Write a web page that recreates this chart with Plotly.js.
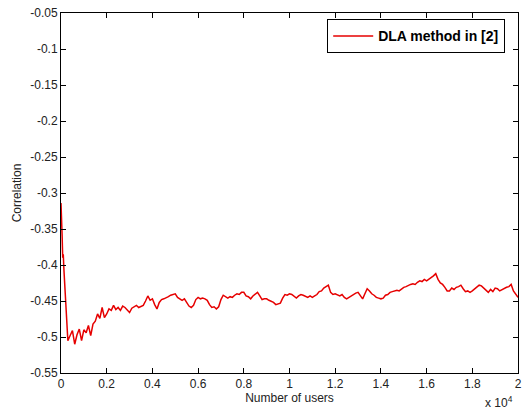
<!DOCTYPE html>
<html>
<head>
<meta charset="utf-8">
<script src="https://cdn.plot.ly/plotly-3.0.1.min.js"></script>
<style>html,body{margin:0;padding:0;background:#fff;}</style>
</head>
<body>
<div id="chart" style="width:522px;height:414px;"></div>
<script>
// Number of users
const users = [0,25,50,75,100,125,150,175,200,225,250,275,
300,400,500,600,700,800,900,1000,1100,1200,1300,1400,1500,1600,1700,1800,1900,
2000,2100,2200,2300,2400,2500,2600,2700,2800,2900,3000,3100,3200,3300,3400,3500,3600,3700,3800,3900,
4000,4100,4200,4300,4400,4500,4600,4700,4800,4900,5000,5100,5200,5300,5400,5500,5600,5700,5800,5900,
6000,6100,6200,6300,6400,6500,6600,6700,6800,6900,7000,7100,7200,7300,7400,7500,7600,7700,7800,7900,
8000,8100,8200,8300,8400,8500,8600,8700,8800,8900,9000,9100,9200,9300,9400,9500,9600,9700,9800,9900,
10000,10100,10200,10300,10400,10500,10600,10700,10800,10900,11000,11100,11200,11300,11400,11500,11600,11700,11800,11900,
12000,12100,12200,12300,12400,12500,12600,12700,12800,12900,13000,13100,13200,13300,13400,13500,13600,13700,13800,13900,
14000,14100,14200,14300,14400,14500,14600,14700,14800,14900,15000,15100,15200,15300,15400,15500,15600,15700,15800,15900,
16000,16100,16200,16300,16400,16500,16600,16700,16800,16900,17000,17100,17200,17300,17400,17500,17600,17700,17800,17900,
18000,18100,18200,18300,18400,18500,18600,18700,18800,18900,19000,19100,19200,19300,19400,19500,19600,19700,19800,19900,20000];

// Correlation (DLA method in [2])
const correlation = [-0.314,-0.33,-0.36,-0.39,-0.385,-0.405,-0.421,-0.43,-0.45,-0.47,-0.48,-0.495,
-0.505,-0.498,-0.491,-0.51,-0.497,-0.489,-0.505,-0.49,-0.494,-0.484,-0.498,-0.482,-0.478,-0.468,-0.474,-0.459,-0.473,
-0.468,-0.461,-0.463,-0.456,-0.462,-0.459,-0.463,-0.457,-0.459,-0.462,-0.466,-0.46,-0.458,-0.456,-0.459,-0.457,-0.456,-0.45,-0.443,-0.449,
-0.447,-0.455,-0.461,-0.452,-0.448,-0.447,-0.446,-0.444,-0.442,-0.441,-0.44,-0.445,-0.447,-0.449,-0.447,-0.452,-0.457,-0.459,-0.456,-0.448,
-0.445,-0.447,-0.446,-0.447,-0.449,-0.455,-0.459,-0.458,-0.461,-0.458,-0.448,-0.442,-0.444,-0.446,-0.444,-0.445,-0.442,-0.44,-0.441,-0.438,
-0.438,-0.443,-0.444,-0.447,-0.443,-0.44,-0.438,-0.443,-0.448,-0.447,-0.447,-0.449,-0.45,-0.452,-0.455,-0.454,-0.453,-0.446,-0.441,-0.442,
-0.44,-0.441,-0.443,-0.446,-0.443,-0.441,-0.442,-0.444,-0.445,-0.443,-0.445,-0.443,-0.441,-0.437,-0.436,-0.432,-0.43,-0.428,-0.438,-0.441,
-0.44,-0.442,-0.443,-0.441,-0.445,-0.447,-0.445,-0.443,-0.44,-0.439,-0.438,-0.443,-0.447,-0.44,-0.433,-0.436,-0.44,-0.442,-0.445,-0.446,
-0.447,-0.446,-0.442,-0.441,-0.438,-0.437,-0.436,-0.435,-0.436,-0.433,-0.431,-0.43,-0.428,-0.427,-0.426,-0.427,-0.424,-0.422,-0.423,-0.42,
-0.422,-0.42,-0.418,-0.415,-0.412,-0.42,-0.425,-0.427,-0.431,-0.436,-0.436,-0.432,-0.434,-0.431,-0.43,-0.428,-0.433,-0.437,-0.436,-0.438,
-0.436,-0.433,-0.431,-0.428,-0.429,-0.432,-0.436,-0.438,-0.434,-0.437,-0.432,-0.433,-0.436,-0.434,-0.432,-0.431,-0.43,-0.427,-0.436,-0.44,-0.445];

const xTickVals = [0,2000,4000,6000,8000,10000,12000,14000,16000,18000,20000];
const xTickText = ['0','0.2','0.4','0.6','0.8','1','1.2','1.4','1.6','1.8','2'];
const yTickVals = [-0.55,-0.5,-0.45,-0.4,-0.35,-0.3,-0.25,-0.2,-0.15,-0.1,-0.05];
const yTickText = ['-0.55','-0.5','-0.45','-0.4','-0.35','-0.3','-0.25','-0.2','-0.15','-0.1','-0.05'];

const font = {family: 'Liberation Sans, Arial, sans-serif', size: 12, color: '#222'};

const trace = {
  x: users, y: correlation, type: 'scatter', mode: 'lines',
  name: 'DLA method in [2]',
  line: {color: 'rgb(230,0,0)', width: 1.5}
};

const axisCommon = {
  showline: true, linecolor: '#000', linewidth: 1, mirror: 'ticks',
  ticks: 'inside', ticklen: 5, tickcolor: '#000', showgrid: false, zeroline: false,
  tickfont: font
};

const layout = {
  width: 522, height: 414,
  margin: {l: 61, r: 4, t: 13, b: 41},
  paper_bgcolor: '#fff', plot_bgcolor: '#fff',
  font: font,
  showlegend: true,
  xaxis: Object.assign({}, axisCommon, {
    range: [0, 20000], tickmode: 'array', tickvals: xTickVals, ticktext: xTickText,
    title: {text: 'Number of users', font: font, standoff: 2}
  }),
  yaxis: Object.assign({}, axisCommon, {
    range: [-0.55, -0.05], tickmode: 'array', tickvals: yTickVals, ticktext: yTickText,
    title: {text: 'Correlation', font: font, standoff: 6}
  }),
  legend: {
    x: 0.972, y: 0.9825, xanchor: 'right', yanchor: 'top',
    bgcolor: '#fff', bordercolor: '#000', borderwidth: 1,
    font: {family: 'Liberation Sans, Arial, sans-serif', size: 14, color: '#000', weight: 'bold'},
    itemwidth: 40
  },
  annotations: [{
    text: 'x 10<sup>4</sup>', xref: 'paper', yref: 'paper',
    x: 0.9934, y: -0.0806, xanchor: 'right', yanchor: 'middle',
    showarrow: false, font: font
  }]
};

Plotly.newPlot('chart', [trace], layout, {displayModeBar: false, staticPlot: true});
</script>
</body>
</html>
